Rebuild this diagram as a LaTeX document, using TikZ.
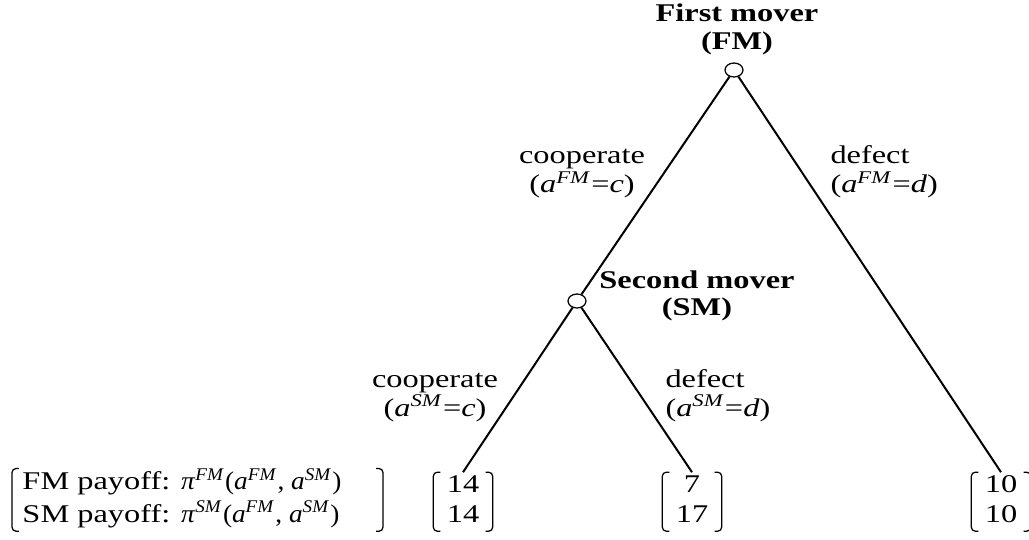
\documentclass[tikz,border=0pt]{standalone}
\usepackage{fontspec}
\setmainfont{Liberation Serif}[FakeStretch=1.27]
\newfontfamily\narrowserif{Liberation Serif}[FakeStretch=1.07]
\usetikzlibrary{positioning, shapes.geometric}

\newcommand{\act}[1]{\textit{a}\textsuperscript{\textit{#1}}}
\newcommand{\gain}[1]{\textit{π}\textsuperscript{\textit{#1}}}

\begin{document}
\begin{tikzpicture}[
    x=0.4pt, y=-0.4pt,
    every node/.style={font=\fontsize{10.2}{11.6}\selectfont, inner sep=0pt},
    move/.style={draw, ellipse, line width=0.5pt, minimum width=7.2pt, minimum height=5.6pt},
    player/.style={align=center, anchor=base, font=\fontsize{10.2}{11.2}\selectfont\bfseries},
    choice/.style={anchor=base},
    payoff/.style={align=center, anchor=base, inner xsep=5.2pt},
    branch/.style={line width=0.8pt},
    bracket/.style={line width=0.5pt, rounded corners=1.6pt}
]
\useasboundingbox (0,0) rectangle (1029,540);

% Players (base = last line)
\node[move] (fm) at (734,70) {};
\node[player] (fmname) at (737,50) {First mover\\(FM)};
\node[move] (sm) at (577,301) {};
\node[player] (smname) at (697,316) {Second mover\\(SM)};

% Actions
\node[choice, align=center] (fmc) at (582,193) {cooperate\\(\act{FM}=\textit{c})};
\node[choice, align=left, anchor=base west] (fmd) at (830,193) {defect\\(\act{FM}=\textit{d})};
\node[choice, align=center] (smc) at (435,416) {cooperate\\(\act{SM}=\textit{c})};
\node[choice, align=left, anchor=base west] (smd) at (665,416) {defect\\(\act{SM}=\textit{d})};

% Payoffs
\node[align=left, anchor=base west] (key) at (22,522)
    {FM payoff: {\narrowserif\gain{FM}(\act{FM}, \act{SM})}\strut\\SM payoff: {\narrowserif\gain{SM}(\act{FM}, \act{SM})}\strut};
\node[payoff] (p1) at (463,522) {14\strut\\14\strut};
\node[payoff] (p2) at (692,522) {7\strut\\17\strut};
\node[payoff] (p3) at (1001,522) {10\strut\\10\strut};

\foreach \v in {p1,p2,p3} {
  \draw[bracket] ([xshift=2.8pt]\v.north west) -- (\v.north west) -- (\v.south west) -- ([xshift=2.8pt]\v.south west);
  \draw[bracket] ([xshift=-2.8pt]\v.north east) -- (\v.north east) -- (\v.south east) -- ([xshift=-2.8pt]\v.south east);
}
\draw[bracket] ([xshift=-1.2pt]key.north west) -- ([xshift=-4pt]key.north west) -- ([xshift=-4pt]key.south west) -- ([xshift=-1.2pt]key.south west);
\draw[bracket] ([xshift=141.6pt]key.north west) -- ([xshift=144.4pt]key.north west) -- ([xshift=144.4pt]key.south west) -- ([xshift=141.6pt]key.south west);

% Branches
\draw[branch] (fm) -- (sm);
\draw[branch] (fm) -- (p3.north);
\draw[branch] (sm) -- (p1.north);
\draw[branch] (sm) -- (p2.north);
\end{tikzpicture}
\end{document}
